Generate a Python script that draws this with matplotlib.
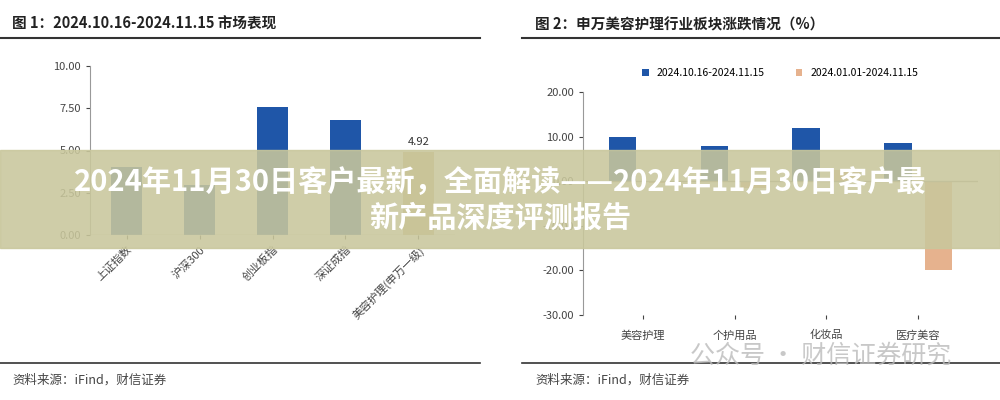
import matplotlib
matplotlib.use("Agg")
import matplotlib.pyplot as plt
from matplotlib.patches import Rectangle

plt.rcParams['font.family'] = ['Noto Sans CJK SC', 'DejaVu Sans']

left_cats = ['上证指数', '沪深300', '创业板指', '深证成指', '美容护理(申万一级)']
left_vals = [4.0, 2.95, 7.6, 6.8, 4.92]
right_cats = ['美容护理', '个护用品', '化妆品', '医疗美容']
right_recent = [10.0, 7.8, 12.0, 8.6]
right_ytd = [-0.5, -1.5, 2.5, -20.0]
legend_labels = ['2024.10.16-2024.11.15', '2024.01.01-2024.11.15']

BLUE = '#1f56a8'
TAN = '#e6b28e'
TAN_DARK = '#cdb57e'
W, H = 1000, 400
fig = plt.figure(figsize=(10, 4), dpi=100)

def ax_at(x0, y0, x1, y1):
    return fig.add_axes([x0 / W, 1 - y1 / H, (x1 - x0) / W, (y1 - y0) / H])

def style(ax):
    for s in ['top', 'right', 'bottom']:
        ax.spines[s].set_visible(False)
    ax.spines['left'].set_color('#999999')
    ax.tick_params(colors='#444444', labelsize=8, length=3)

# left chart
ax1 = ax_at(90, 66, 455, 235)
cols = [BLUE] * 4 + [TAN_DARK]
ax1.bar(range(5), left_vals, width=0.42, color=cols)
ax1.set_ylim(0, 10)
ax1.set_xlim(-0.5, 4.5)
ax1.set_yticks([0, 2.5, 5, 7.5, 10])
ax1.set_yticklabels(['0.00', '2.50', '5.00', '7.50', '10.00'])
ax1.set_xticks(range(5))
ax1.set_xticklabels(left_cats, rotation=45, ha='right', rotation_mode='anchor', fontsize=8, color='#555555')
ax1.axhline(0, color='#999999', lw=1)
ax1.text(4, 4.92 + 0.3, '4.92', ha='center', va='bottom', fontsize=8, color='#333333')
style(ax1)

# right chart
ax2 = ax_at(583, 92, 978, 315)
x = range(4)
ax2.bar([i - 0.22 for i in x], right_recent, width=0.3, color=BLUE, label=legend_labels[0])
ax2.bar([i + 0.22 for i in x], right_ytd, width=0.3, color=TAN, label=legend_labels[1])
ax2.set_ylim(-30, 20)
ax2.set_xlim(-0.65, 3.65)
ax2.set_yticks([-30, -20, -10, 0, 10, 20])
ax2.set_yticklabels(['-30.00', '-20.00', '-10.00', '0.00', '10.00', '20.00'])
ax2.set_xticks(list(x))
ax2.set_xticklabels(right_cats, fontsize=8, color='#555555')
ax2.tick_params(axis='x', length=0, pad=8)
ax2.axhline(0, color='#999999', lw=1)
style(ax2)
ax2.legend(loc='lower center', bbox_to_anchor=(0.5, 1.02), ncol=2, frameon=False,
           fontsize=7.5, handlelength=0.6, handleheight=0.6, columnspacing=3)

# titles, rules, sources
fig.text(12 / W, 1 - 24 / H, '图 1：2024.10.16-2024.11.15 市场表现', fontsize=10.5, weight='bold', va='center', color='#222222')
fig.text(535 / W, 1 - 24 / H, '图 2：申万美容护理行业板块涨跌情况（%）', fontsize=10.5, weight='bold', va='center', color='#222222')
for (a, b) in [(0, 480), (522, 1000)]:
    fig.add_artist(plt.Line2D([a / W, b / W], [1 - 38 / H] * 2, color='#333333', lw=1.5))
    fig.add_artist(plt.Line2D([a / W, b / W], [1 - 363 / H] * 2, color='#333333', lw=1.2))
fig.text(12 / W, 1 - 380 / H, '资料来源：iFind，财信证券', fontsize=9, style='italic', va='center', color='#444444')
fig.text(535 / W, 1 - 380 / H, '资料来源：iFind，财信证券', fontsize=9, style='italic', va='center', color='#444444')
fig.text(690 / W, 1 - 356 / H, '公众号 · 财信证券研究', fontsize=18, va='center', color='#bbbbbb', alpha=0.8)

# banner
fig.add_artist(Rectangle((0, 1 - 248 / H), 1, 98 / H, transform=fig.transFigure,
                         color='#c9c79c', alpha=0.88, zorder=10))
fig.text(0.5, 1 - 200 / H, '2024年11月30日客户最新，全面解读——2024年11月30日客户最\n新产品深度评测报告',
         ha='center', va='center', fontsize=21, weight='bold', color='white', zorder=11, linespacing=1.25)

fig.savefig('out.png', dpi=100)
